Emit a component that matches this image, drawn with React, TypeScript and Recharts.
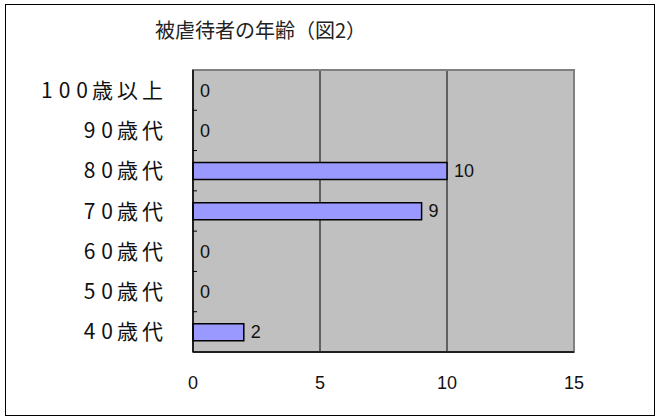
import React from "react";
import {
  ComposedChart,
  Bar,
  Scatter,
  XAxis,
  YAxis,
  CartesianGrid,
  ReferenceArea,
} from "recharts";

const categories = ["100歳以上", "90歳代", "80歳代", "70歳代", "60歳代", "50歳代", "40歳代"];
const counts = [0, 0, 10, 9, 0, 0, 2];
const xTicks = [0, 5, 10, 15];
const title = "被虐待者の年齢（図2）";

const chartData = categories.map((name, i) => ({ name, count: counts[i] }));

const W = 659;
const H = 420;
const PLOT_TOP = 70;
const PLOT_BOTTOM = 352;
const PLOT_LEFT = 193;
const PLOT_RIGHT = 574;
const band = (PLOT_BOTTOM - PLOT_TOP) / categories.length;

function CategoryTick({ x, y, payload, index }: any) {
  return (
    <g>
      <text
        x={x - 22}
        y={y}
        dy="0.36em"
        textAnchor="end"
        fontSize={21}
        fill="#111"
        fontFamily="'Noto Sans CJK JP', sans-serif"
      >
        {String(payload.value)
          .split("")
          .map((ch: string, i: number) => (
            <tspan key={i} dx={i === 0 ? 0 : /[0-9]/.test(ch) ? 6 : 4}>
              {ch}
            </tspan>
          ))}
      </text>
      {index > 0 && (
        <line x1={PLOT_LEFT} x2={PLOT_LEFT + 4} y1={y - band / 2} y2={y - band / 2} stroke="#000" />
      )}
    </g>
  );
}

// value text drawn at the end of each bar
function ValueLabel({ cx, cy, payload }: any) {
  return (
    <text
      x={cx + 7}
      y={cy}
      dy="0.36em"
      fontSize={18}
      fill="#111"
      fontFamily="'Liberation Sans', sans-serif"
    >
      {payload.count}
    </text>
  );
}

export default function App() {
  return (
    <div style={{ position: "fixed", left: 0, top: 0, width: W, height: H, background: "#fff" }}>
      <div
        style={{
          position: "absolute",
          left: 5,
          top: 4,
          width: 648,
          height: 410,
          border: "1.5px solid #000",
        }}
      />
      <div
        style={{
          position: "absolute",
          left: 155,
          top: 15,
          fontSize: 20,
          lineHeight: "30px",
          color: "#222",
          fontFamily: "'Noto Sans CJK JP', sans-serif",
          whiteSpace: "nowrap",
        }}
      >
        {title}
      </div>
      <ComposedChart
        width={W}
        height={H}
        data={chartData}
        layout="vertical"
        margin={{ top: PLOT_TOP, right: W - PLOT_RIGHT, bottom: 0, left: 0 }}
        barSize={17}
      >
        <CartesianGrid horizontal={false} vertical={true} stroke="#000" strokeOpacity={1} fill="#C0C0C0" fillOpacity={1} />
        <ReferenceArea x1={0} x2={15} fill="none" stroke="#808080" strokeWidth={2} />
        <XAxis
          type="number"
          dataKey="count"
          domain={[0, 15]}
          ticks={xTicks}
          height={H - PLOT_BOTTOM}
          axisLine={{ stroke: "#000", strokeWidth: 1.5 }}
          tickLine={false}
          tickSize={0}
          tickMargin={24}
          tick={{ fill: "#111", fontSize: 18, fontFamily: "'Liberation Sans', sans-serif" }}
        />
        <YAxis
          type="category"
          dataKey="name"
          width={PLOT_LEFT}
          axisLine={{ stroke: "#000", strokeWidth: 1.5 }}
          tickLine={false}
          interval={0}
          tick={<CategoryTick />}
        />
        <Bar dataKey="count" fill="#9999FF" stroke="#000" strokeWidth={1.5} isAnimationActive={false} />
        <Scatter dataKey="count" shape={<ValueLabel />} isAnimationActive={false} />
      </ComposedChart>
    </div>
  );
}
